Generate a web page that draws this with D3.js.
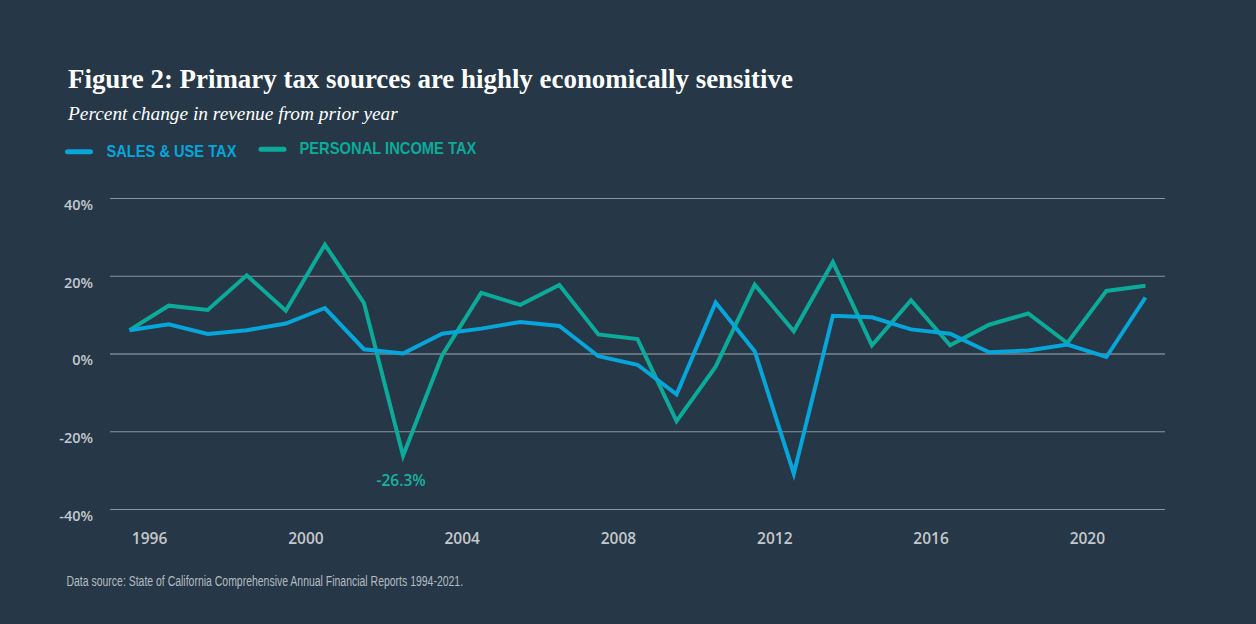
<!DOCTYPE html>
<html>
<head>
<meta charset="utf-8">
<script src="https://cdn.jsdelivr.net/npm/d3@7"></script>
<style>
  html, body { margin: 0; padding: 0; background: #263747; }
  svg { display: block; }
</style>
</head>
<body>
<div id="chart"></div>
<script>

// fiscal years, one point per year
var years = [1995, 1996, 1997, 1998, 1999, 2000, 2001, 2002, 2003, 2004, 2005, 2006, 2007, 2008,
             2009, 2010, 2011, 2012, 2013, 2014, 2015, 2016, 2017, 2018, 2019, 2020, 2021];

var salesUse = [6.0, 7.5, 5.0, 6.0, 7.7, 11.7, 1.1, 0.0, 5.1, 6.4, 8.1, 7.1, -0.7, -2.9,
                -10.5, 13.1, 0.6, -30.9, 9.7, 9.3, 6.2, 5.1, 0.3, 0.8, 2.3, -0.9, 14.4];

var personalIncome = [6.0, 12.3, 11.2, 20.1, 11.0, 28.0, 13.0, -26.3, -0.5, 15.6, 12.5, 17.6, 4.9, 3.7,
                      -17.4, -3.4, 17.7, 5.7, 23.5, 2.1, 13.7, 2.1, 7.4, 10.3, 2.7, 16.1, 17.4];

var yTicks = [-40, -20, 0, 20, 40];
var xTicks = [1996, 2000, 2004, 2008, 2012, 2016, 2020];

var legendItems = ["SALES & USE TAX", "PERSONAL INCOME TAX"];

var blue = "#06a6da",
    green = "#0cab99";

var width = 1256,
    height = 624;

var margin = {top: 198, right: 91, bottom: 115, left: 110};

var svg = d3.select("#chart").append("svg")
  .attr("width", width)
  .attr("height", height);

svg.append("rect")
  .attr("width", width)
  .attr("height", height)
  .attr("fill", "#263747");

// stretch a text's font size so it covers the given width
function fit(sel, w) {
  var cur = sel.node().getComputedTextLength();
  var fs = parseFloat(sel.attr("font-size"));
  sel.attr("font-size", (fs * w / cur).toFixed(2));
}

// no condensed face installed, so squeeze the text sideways instead
function condense(sel, w) {
  var cur = sel.node().getComputedTextLength();
  var x0 = +sel.attr("x");
  sel.attr("transform", "translate(" + x0 + ",0) scale(" + (w / cur).toFixed(4) + ",1) translate(" + (-x0) + ",0)");
}

var x = d3.scaleLinear()
  .domain([1995, 2022])
  .range([margin.left, width - margin.right]);

var y = d3.scaleLinear()
  .domain([-40, 40])
  .range([height - margin.bottom, margin.top]);

// titles
var title = svg.append("text")
  .attr("x", 68).attr("y", 88)
  .attr("font-family", "'Liberation Serif', 'DejaVu Serif', serif")
  .attr("font-weight", "bold")
  .attr("font-size", 26)
  .attr("fill", "#ffffff")
  .text("Figure 2: Primary tax sources are highly economically sensitive");
fit(title, 725);

var subtitle = svg.append("text")
  .attr("x", 68).attr("y", 120)
  .attr("font-family", "'Liberation Serif', 'DejaVu Serif', serif")
  .attr("font-style", "italic")
  .attr("font-size", 18)
  .attr("fill", "#ffffff")
  .text("Percent change in revenue from prior year");
fit(subtitle, 330);

// legend
var legend = [
  {label: legendItems[0], color: blue, x: 65, tx: 106.5, ty: 156.7, w: 130},
  {label: legendItems[1], color: green, x: 258.5, tx: 299.5, ty: 154.3, w: 177}
];

legend.forEach(function(d) {
  svg.append("line")
    .attr("x1", d.x + 2.5).attr("x2", d.x + 25.5)
    .attr("y1", d.ty - 5).attr("y2", d.ty - 5)
    .attr("stroke", d.color)
    .attr("stroke-width", 5)
    .attr("stroke-linecap", "round");

  var t = svg.append("text")
    .attr("x", d.tx).attr("y", d.ty)
    .attr("font-family", "'Liberation Sans', sans-serif")
    .attr("font-weight", "bold")
    .attr("font-size", 17)
    .attr("fill", d.color)
    .text(d.label);
  condense(t, d.w);
});

// y axis + gridlines
var yAxis = svg.append("g")
  .attr("transform", "translate(" + margin.left + ",0)")
  .call(d3.axisLeft(y)
    .tickValues(yTicks)
    .tickFormat(function(d) { return d + "%"; })
    .tickSize(-(width - margin.left - margin.right))
    .tickPadding(17));

yAxis.select(".domain").remove();
yAxis.selectAll(".tick line")
  .attr("stroke", function(d) { return d === 0 ? "#a3abb2" : "#8a949c"; })
  .attr("stroke-width", 1);
yAxis.selectAll(".tick text")
  .attr("dy", 11.3)
  .attr("font-family", "'Open Sans', sans-serif")
  .attr("font-weight", 600)
  .attr("font-size", 14.5)
  .attr("fill", "#c3c8cc");

// x axis labels only
var xAxis = svg.append("g")
  .attr("transform", "translate(0," + (height - margin.bottom) + ")")
  .call(d3.axisBottom(x)
    .tickValues(xTicks)
    .tickFormat(d3.format("d"))
    .tickSize(0)
    .tickPadding(24));

xAxis.select(".domain").remove();
xAxis.selectAll(".tick text")
  .attr("font-family", "'Open Sans', sans-serif")
  .attr("font-weight", 600)
  .attr("font-size", 15.5)
  .attr("fill", "#c3c8cc");

// lines, drawn at the middle of each year
var line = d3.line()
  .x(function(d, i) { return x(years[i] + 0.5); })
  .y(function(d) { return y(d); });

svg.append("path")
  .datum(personalIncome)
  .attr("fill", "none")
  .attr("stroke", green)
  .attr("stroke-width", 4)
  .attr("d", line);

svg.append("path")
  .datum(salesUse)
  .attr("fill", "none")
  .attr("stroke", blue)
  .attr("stroke-width", 4)
  .attr("d", line);

// label the personal income low point
var low = d3.minIndex(personalIncome);
svg.append("text")
  .attr("x", x(years[low] + 0.5) - 2)
  .attr("y", 486)
  .attr("text-anchor", "middle")
  .attr("font-family", "'Open Sans', sans-serif")
  .attr("font-weight", 600)
  .attr("font-size", 15.5)
  .attr("fill", "#17b3a3")
  .text(personalIncome[low].toFixed(1) + "%");

// source note
var note = svg.append("text")
  .attr("x", 66.5).attr("y", 586.5)
  .attr("font-family", "'Liberation Sans', sans-serif")
  .attr("font-size", 15)
  .attr("fill", "#b4bcc2")
  .text("Data source: State of California Comprehensive Annual Financial Reports 1994-2021.");
condense(note, 397);

</script>
</body>
</html>
